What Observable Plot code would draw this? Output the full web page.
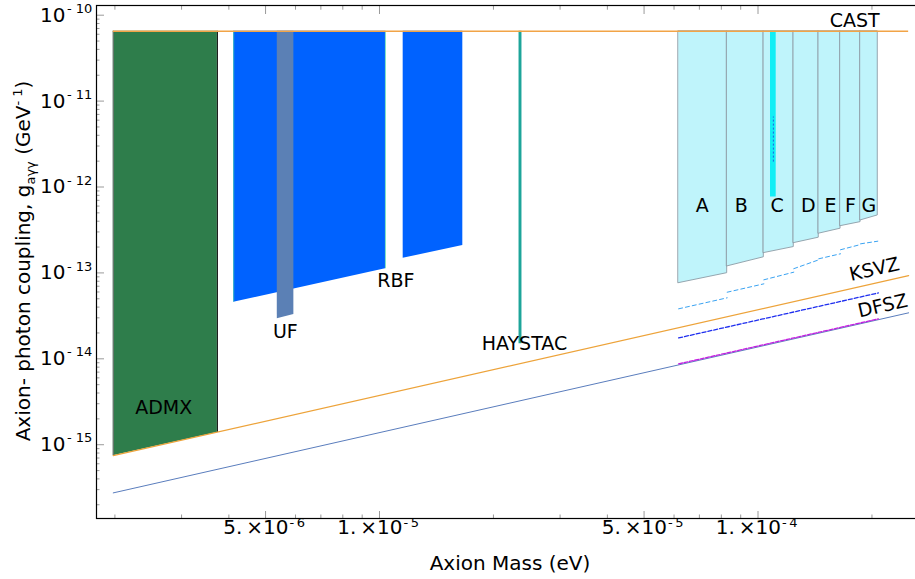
<!DOCTYPE html>
<html><head><meta charset="utf-8">
<script src="https://cdn.jsdelivr.net/npm/d3@7"></script>
<script src="https://cdn.jsdelivr.net/npm/@observablehq/plot@0.6"></script>
<style>body{margin:0;background:#fff} svg{display:block}</style>
</head><body><div id="chart"></div>
<script>
// ---------------- data (axion mass in eV, coupling in GeV^-1) ----------------
const castLimit = 6.5e-11;
const castMass = [1.98e-6, 2.5e-4];

const ksvzMass = [1.98e-6, 2.5e-4];
const ksvzCoupling = [7.45e-16, 9.3e-14];
const dfszMass = [1.98e-6, 2.5e-4];
const dfszCoupling = [2.75e-16, 3.43e-14];

const admxMass = [1.98e-6, 3.73e-6];
const admxBottom = [7.45e-16, 1.39e-15];

const rbfNames = ["RBF1", "RBF2"];
const rbfMassLow = [4.12e-6, 1.155e-5];
const rbfMassHigh = [1.037e-5, 1.66e-5];
const rbfBottomLow = [4.56e-14, 1.48e-13];
const rbfBottomHigh = [1.117e-13, 2.08e-13];

const ufMass = [5.37e-6, 5.94e-6];
const ufBottom = [2.92e-14, 3.27e-14];

const haystacMass = [2.337e-5, 2.379e-5];
const haystacBottom = [1.5e-14, 1.5e-14];

const projNames = ["A", "B", "C", "D", "E", "F", "G"];
const projMassLow  = [6.17e-5, 8.29e-5, 1.036e-4, 1.243e-4, 1.447e-4, 1.652e-4, 1.866e-4];
const projMassHigh = [8.29e-5, 1.036e-4, 1.243e-4, 1.447e-4, 1.652e-4, 1.866e-4, 2.072e-4];
const projBottomLow  = [7.59e-14, 1.19e-13, 1.70e-13, 2.22e-13, 2.86e-13, 3.50e-13, 4.08e-13];
const projBottomHigh = [9.93e-14, 1.52e-13, 2.00e-13, 2.57e-13, 3.27e-13, 3.90e-13, 4.67e-13];
const projSensLow  = [3.82e-14, 5.96e-14, 8.31e-14, 1.12e-13, 1.46e-13, 1.86e-13, 2.18e-13];
const projSensHigh = [5.13e-14, 7.46e-14, 1.02e-13, 1.42e-13, 1.67e-13, 2.14e-13, 2.34e-13];

const cBarMass = [1.079e-4, 1.117e-4];
const cBarBottom = 7.63e-13;
const cBarDashMass = 1.098e-4;
const cBarDashCoupling = [1.95e-12, 6.53e-12];

const dfszProjMass = [6.17e-5, 2.08e-4];
const dfszProjCoupling = [1.75e-14, 5.85e-14];
const dfszReachMass = [6.17e-5, 2.08e-4];
const dfszReachCoupling = [8.73e-15, 2.92e-14];

const labelNames = ["CAST", "ADMX", "UF", "RBF", "HAYSTAC", "A", "B", "C", "D", "E", "F", "G", "KSVZ", "DFSZ"];
const labelMass = [1.80e-4, 2.69e-6, 5.64e-6, 1.105e-5, 2.415e-5, 7.12e-5, 9.03e-5, 1.124e-4, 1.357e-4, 1.553e-4, 1.756e-4, 1.962e-4, 2.03e-4, 2.135e-4];
const labelCoupling = [8.67e-11, 2.70e-15, 2.04e-14, 8.15e-14, 1.49e-14, 6.03e-13, 6.03e-13, 6.03e-13, 6.03e-13, 6.03e-13, 6.03e-13, 6.03e-13, 1.096e-13, 4.11e-14];
const labelAngle = [0, 0, 0, 0, 0, 0, 0, 0, 0, 0, 0, 0, -12.8, -12.8];

const xMajorTicks = [5e-6, 1e-5, 5e-5, 1e-4];
const xMajorMantissa = ["5.\u2009\u00d710", "1.\u2009\u00d710", "5.\u2009\u00d710", "1.\u2009\u00d710"];
const xMajorExponent = ["-\u20096", "-\u20095", "-\u20095", "-\u20094"];
const xMinorTicks = [2e-6, 3e-6, 4e-6, 6e-6, 7e-6, 8e-6, 9e-6, 2e-5, 3e-5, 4e-5, 6e-5, 7e-5, 8e-5, 9e-5, 2e-4];
const yMajorTicks = [1e-10, 1e-11, 1e-12, 1e-13, 1e-14, 1e-15];
const yMajorExponent = ["- 10", "- 11", "- 12", "- 13", "- 14", "- 15"];
const yMinorTicks = [];
for (let e = -16; e <= -11; e++) for (let m = 2; m <= 9; m++) yMinorTicks.push(+(m + "e" + e));

// ---------------- build tables ----------------
const band = (names, lo, hi, bl, bh) => names.flatMap((n, i) => [
  {name: n, m: lo[i], y1: bl[i], y2: castLimit},
  {name: n, m: hi[i], y1: bh[i], y2: castLimit}
]);
const admx = band(["ADMX"], [admxMass[0]], [admxMass[1]], [admxBottom[0]], [admxBottom[1]]);
const rbf = band(rbfNames, rbfMassLow, rbfMassHigh, rbfBottomLow, rbfBottomHigh);
const uf = band(["UF"], [ufMass[0]], [ufMass[1]], [ufBottom[0]], [ufBottom[1]]);
const hay = band(["HAYSTAC"], [haystacMass[0]], [haystacMass[1]], [haystacBottom[0]], [haystacBottom[1]]);
const proj = band(projNames, projMassLow, projMassHigh, projBottomLow, projBottomHigh);
const cbar = band(["Cbar"], [cBarMass[0]], [cBarMass[1]], [cBarBottom], [cBarBottom]);
const sens = projNames.flatMap((n, i) => [
  {name: n, m: projMassLow[i], g: projSensLow[i]},
  {name: n, m: projMassHigh[i], g: projSensHigh[i]}
]);
const pair = (ms, gs) => ms.map((m, i) => ({m, g: gs[i]}));
const labels = labelNames.map((t, i) => ({t, m: labelMass[i], g: labelCoupling[i], a: labelAngle[i]}));
const xMajor = xMajorTicks.map((v, i) => ({v, mant: xMajorMantissa[i], exp: xMajorExponent[i]}));
const yMajor = yMajorTicks.map((v, i) => ({v, exp: yMajorExponent[i]}));

const tickGray = "#9a9a9a";
const inX = (ticks, anchor, len) => Plot.axisX(ticks, {anchor, tickSize: len, dy: anchor === "bottom" ? -len : len, tickFormat: () => "", stroke: tickGray, label: null});
const inY = (ticks, len) => Plot.axisY(ticks, {anchor: "left", tickSize: len, dx: len, tickFormat: () => "", stroke: tickGray, label: null});

const svg = Plot.plot({
  width: 915, height: 579,
  marginLeft: 96, marginRight: -5, marginTop: 5, marginBottom: 61,
  x: {type: "log", domain: [1.788e-6, 2.687e-4]},
  y: {type: "log", domain: [1.384e-16, 1.297e-10]},
  style: {fontFamily: "'DejaVu Sans', sans-serif", fontSize: "20px", background: "#fff", color: "#000"},
  marks: [
    Plot.areaY(admx, {x: "m", y1: "y1", y2: "y2", z: "name", fill: "#2e7d4b"}),
    Plot.ruleX([admxMass[0]], {y1: admxBottom[0], y2: castLimit, stroke: "#777", strokeWidth: 1}),
    Plot.ruleX([admxMass[1]], {y1: admxBottom[1], y2: castLimit, stroke: "#000", strokeWidth: 1}),
    Plot.areaY(rbf, {x: "m", y1: "y1", y2: "y2", z: "name", fill: "#0062ff"}),
    Plot.ruleX([rbfMassLow[0], rbfMassHigh[0]], {y1: (d, i) => [rbfBottomLow[0], rbfBottomHigh[0]][i], y2: castLimit, stroke: "#3fd3a8", strokeWidth: 0.7}),
    Plot.areaY(uf, {x: "m", y1: "y1", y2: "y2", z: "name", fill: "#5b80b5"}),
    Plot.areaY(hay, {x: "m", y1: "y1", y2: "y2", z: "name", fill: "#1ea59a"}),
    Plot.areaY(proj, {x: "m", y1: "y1", y2: "y2", z: "name", fill: "#bff4fb", stroke: "#8d9ca6", strokeWidth: 0.9}),
    Plot.areaY(cbar, {x: "m", y1: "y1", y2: "y2", z: "name", fill: "#12eef5"}),
    Plot.ruleX([cBarDashMass], {y1: cBarDashCoupling[0], y2: cBarDashCoupling[1], stroke: "#2040e0", strokeWidth: 0.8, strokeDasharray: "2,2"}),
    Plot.line(sens, {x: "m", y: "g", z: "name", stroke: "#3aa3f2", strokeWidth: 1, strokeDasharray: "4,3"}),
    Plot.line(pair(ksvzMass, ksvzCoupling), {x: "m", y: "g", stroke: "#eda33a", strokeWidth: 1.2}),
    Plot.line(pair(dfszMass, dfszCoupling), {x: "m", y: "g", stroke: "#5a7dbd", strokeWidth: 1}),
    Plot.line(pair(dfszReachMass, dfszReachCoupling), {x: "m", y: "g", stroke: "#c51fe0", strokeWidth: 1.3, strokeDasharray: "4,1.5"}),
    Plot.line(pair(dfszProjMass, dfszProjCoupling), {x: "m", y: "g", stroke: "#1f2fef", strokeWidth: 1.3, strokeDasharray: "4,2"}),
    Plot.ruleY([castLimit], {x1: castMass[0], x2: castMass[1], stroke: "#f2a447", strokeWidth: 1.5}),
    // inward ticks
    inX(xMinorTicks, "bottom", 3.5),
    inX(xMajorTicks, "bottom", 7),
    inX(xMinorTicks, "top", 3.7),
    inX(xMajorTicks, "top", 8),
    inY(yMinorTicks, 3.5),
    inY(yMajorTicks, 8),
    Plot.frame({stroke: "#000", strokeWidth: 1.2}),
    // tick labels
    Plot.text(xMajor, {x: "v", frameAnchor: "bottom", text: "mant", textAnchor: "end", dx: 23, dy: 15, fontSize: 20}),
    Plot.text(xMajor, {x: "v", frameAnchor: "bottom", text: "exp", textAnchor: "start", dx: 24, dy: 8.5, fontSize: 13}),
    Plot.text(yMajor, {y: "v", frameAnchor: "left", text: () => "10", textAnchor: "end", dx: -31, fontSize: 20}),
    Plot.text(yMajor, {y: "v", frameAnchor: "left", text: "exp", textAnchor: "start", dx: -29.5, dy: -6.5, fontSize: 13}),
    // annotations
    Plot.text(labels, {x: "m", y: "g", text: "t", rotate: "a", fontSize: 19, fill: "#000"})
  ]
});

// axis titles
const s = d3.select(svg);
s.append("text").attr("x", 510).attr("y", 570).attr("text-anchor", "middle")
  .style("font-size", "20px").text("Axion Mass (eV)");
const yl = s.append("text").attr("transform", "translate(30,261) rotate(-90)")
  .attr("text-anchor", "middle").style("font-size", "20px");
yl.append("tspan").text("Axion- photon coupling, g");
yl.append("tspan").attr("font-size", 13).attr("dy", 5).text("a\u03b3\u03b3");
yl.append("tspan").attr("dy", -5).text(" (GeV");
yl.append("tspan").attr("font-size", 13).attr("dy", -8).text("- 1");
yl.append("tspan").attr("dy", 8).text(")");

document.getElementById("chart").appendChild(svg);
</script>
</body></html>
